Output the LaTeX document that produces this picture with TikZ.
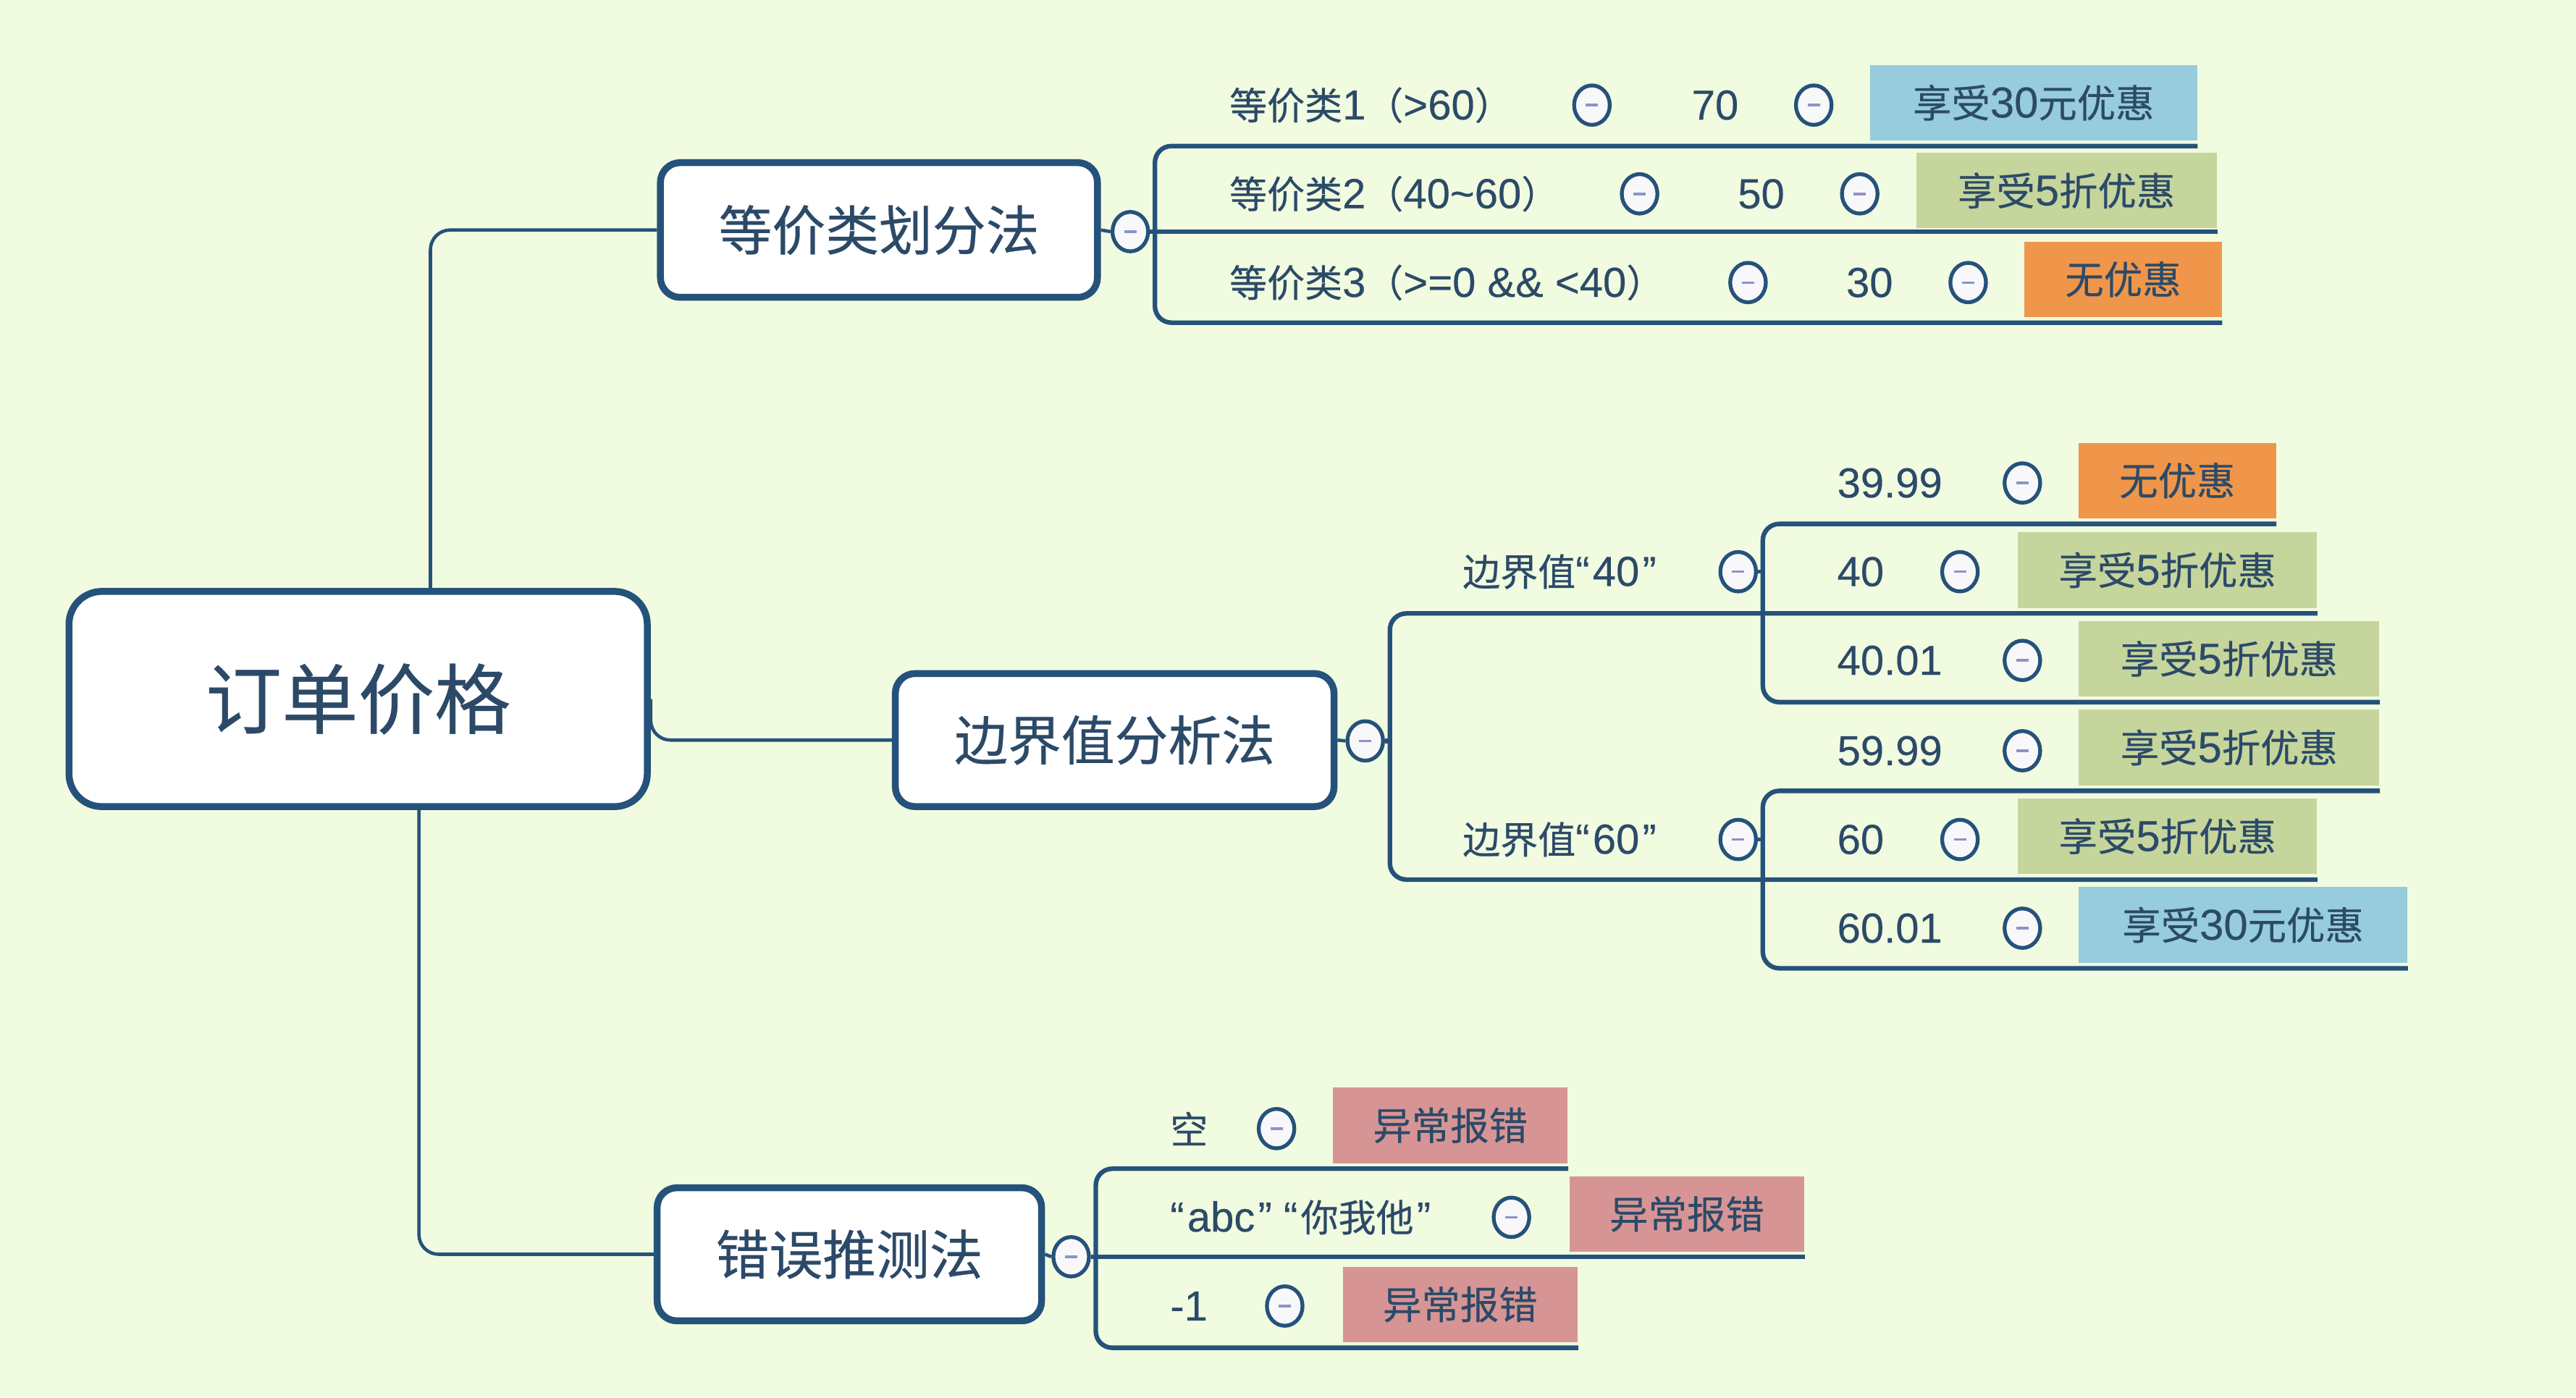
\documentclass[tikz,border=0pt]{standalone}
\usepackage{fontspec}
\newfontfamily\cjk[FakeBold=0.35]{Noto Sans CJK SC}
\newfontfamily\lat[FakeBold=0.25]{Liberation Sans}
\newcommand\rowcj[1]{{\cjk\fontsize{14.8}{18}\selectfont #1}}
\newcommand\boxcj[1]{{\cjk\fontsize{15.2}{18}\selectfont #1}}
\newcommand\oq{“\kern1.2pt}
\newcommand\cq{\kern1.2pt”}
\usetikzlibrary{shapes.geometric,calc}
\definecolor{bg}{HTML}{F1FBE0}
\definecolor{bord}{HTML}{24527A}
\definecolor{txt}{HTML}{2C4A68}
\definecolor{cblue}{HTML}{96CCDC}
\definecolor{cgreen}{HTML}{C5D59C}
\definecolor{corange}{HTML}{F0964A}
\definecolor{cred}{HTML}{D69594}
\definecolor{togfill}{HTML}{F8F8FB}
\definecolor{mcol}{HTML}{8C93C8}
\def\U{0.6456pt}
\begin{document}
\begin{tikzpicture}[x=0.02269cm, y=-0.02269cm,
  every node/.style={font=\cjk, text=txt},
  mainbox/.style={draw=bord, fill=white, line width=2.7pt, rounded corners=12*\U, inner sep=0pt},
  conn/.style={draw=bord, line width=1.3pt},
  ul/.style={draw=bord, line width=1.8pt},
  tog/.style={ellipse, draw=bord, fill=togfill, line width=1.5pt, minimum width=14pt, minimum height=15.5pt, inner sep=0pt,
    path picture={\draw[mcol, line width=1pt] ([xshift=-2.4pt]path picture bounding box.center) -- ([xshift=2.4pt]path picture bounding box.center);}},
  lbl/.style={anchor=west, inner sep=0pt, font=\lat\fontsize{16.5}{18}\selectfont},
  res/.style={anchor=west, inner sep=0pt, minimum height=46*\U, font=\lat\fontsize{17}{18}\selectfont},
]
\fill[bg] (0,0) rectangle (1568,850.6);
\useasboundingbox (0,0) rectangle (1568,850.6);

% main boxes
\node[mainbox, minimum width=352*\U, minimum height=131*\U, rounded corners=20*\U] (root) at (218,425.5) {\fontsize{30}{34}\selectfont 订单价格};
\node[mainbox, minimum width=266*\U, minimum height=82*\U] (b1) at (535,140) {\fontsize{21}{24}\selectfont 等价类划分法};
\node[mainbox, minimum width=267*\U, minimum height=81*\U] (b2) at (678.5,450.5) {\fontsize{21}{24}\selectfont 边界值分析法};
\node[mainbox, minimum width=234*\U, minimum height=81*\U] (b3) at (517,763.5) {\fontsize{21}{24}\selectfont 错误推测法};

\node[tog] (t1) at (688,141) {};
\node[tog] (t2) at (831,451) {};
\node[tog] (t3) at (652,765) {};

\draw[conn, rounded corners=12*\U] (root.north -| 262,0) |- (b1.west);
\draw[conn, rounded corners=12*\U] (root.south -| 255,0) |- (b3.west);
\draw[conn, rounded corners=12*\U] (root.east) |- (b2.west);
\draw[conn] (b1.east) -- (t1.west);
\draw[conn] (b2.east) -- (t2.west);
\draw[conn] (b3.east) -- (t3.west);

% branch 1 rows
\node[lbl] (l11) at (748,64) {\rowcj{等价类}1\rowcj{（}>60\rowcj{）}};
\node[tog] (t11) at (969,64) {};
\node[lbl, anchor=center] (v11) at (1044,64) {70};
\node[tog] (t11b) at (1104,64) {};
\node[res, fill=cblue, minimum width=199*\U] (r11) at (1138,62.5) {\boxcj{享受}30\boxcj{元优惠}};

\node[lbl] (l12) at (748,118) {\rowcj{等价类}2\rowcj{（}40\textasciitilde 60\rowcj{）}};
\node[tog] (t12) at (998,118) {};
\node[lbl, anchor=center] (v12) at (1072,118) {50};
\node[tog] (t12b) at (1132,118) {};
\node[res, fill=cgreen, minimum width=183*\U] (r12) at (1166,116) {\boxcj{享受}5\boxcj{折优惠}};

\node[lbl] (l13) at (748,172) {\rowcj{等价类}3\rowcj{（}>=0 \&\& <40\rowcj{）}};
\node[tog] (t13) at (1064,172) {};
\node[lbl, anchor=center] (v13) at (1138,172) {30};
\node[tog] (t13b) at (1198,172) {};
\node[res, fill=corange, minimum width=120*\U] (r13) at (1232,170) {\boxcj{无优惠}};

\coordinate (j1) at (703,141);
\draw[ul, rounded corners=10*\U] ([yshift=-2pt]r11.south east) -| (j1) |- ([yshift=-2pt]r13.south east);
\draw[ul] (t1.east) -- (t1.east -| r12.east);

% branch 2
\node[lbl] (l40) at (890,348) {\rowcj{边界值}\oq 40\cq};
\node[tog] (t40) at (1058,348) {};
\node[lbl] (l60) at (890,511) {\rowcj{边界值}\oq 60\cq};
\node[tog] (t60) at (1058,511) {};

\node[lbl] (a1) at (1118,294) {39.99};
\node[tog] (ta1) at (1231,294) {};
\node[res, fill=corange, minimum width=120*\U] (ra1) at (1265,292.5) {\boxcj{无优惠}};
\node[lbl] (a2) at (1118,348) {40};
\node[tog] (ta2) at (1193,348) {};
\node[res, fill=cgreen, minimum width=182*\U] (ra2) at (1228,347) {\boxcj{享受}5\boxcj{折优惠}};
\node[lbl] (a3) at (1118,402) {40.01};
\node[tog] (ta3) at (1231,402) {};
\node[res, fill=cgreen, minimum width=183*\U] (ra3) at (1265,401) {\boxcj{享受}5\boxcj{折优惠}};
\node[lbl] (a4) at (1118,457) {59.99};
\node[tog] (ta4) at (1231,457) {};
\node[res, fill=cgreen, minimum width=183*\U] (ra4) at (1265,455) {\boxcj{享受}5\boxcj{折优惠}};
\node[lbl] (a5) at (1118,511) {60};
\node[tog] (ta5) at (1193,511) {};
\node[res, fill=cgreen, minimum width=182*\U] (ra5) at (1228,509) {\boxcj{享受}5\boxcj{折优惠}};
\node[lbl] (a6) at (1118,565) {60.01};
\node[tog] (ta6) at (1231,565) {};
\node[res, fill=cblue, minimum width=200*\U] (ra6) at (1265,563) {\boxcj{享受}30\boxcj{元优惠}};

\coordinate (j2) at (846,451);
\coordinate (j40) at (1073,348);
\coordinate (j60) at (1073,511);
\draw[ul] (t2.east) -- (j2);
\draw[ul, rounded corners=10*\U] ([yshift=-2pt]ra2.south east) -| (j2) |- ([yshift=-2pt]ra5.south east);
\draw[ul, rounded corners=10*\U] ([yshift=-2pt]ra1.south east) -| (j40) |- ([yshift=-2pt]ra3.south east);
\draw[ul, rounded corners=10*\U] ([yshift=-2pt]ra4.south east) -| (j60) |- ([yshift=-2pt]ra6.south east);
\draw[conn] (t40.east) -- (j40);
\draw[conn] (t60.east) -- (j60);

% branch 3
\node[lbl] (e1) at (712,687) {\rowcj{空}};
\node[tog] (te1) at (777,687) {};
\node[res, fill=cred, minimum width=143*\U] (re1) at (811,685) {\boxcj{异常报错}};
\node[lbl] (e2) at (712,741) {\oq abc\cq\ \oq\rowcj{你我他}\cq};
\node[tog] (te2) at (920,741) {};
\node[res, fill=cred, minimum width=143*\U] (re2) at (955,739) {\boxcj{异常报错}};
\node[lbl] (e3) at (712,795) {-1};
\node[tog] (te3) at (782,795) {};
\node[res, fill=cred, minimum width=143*\U] (re3) at (817,794) {\boxcj{异常报错}};

\coordinate (j3) at (667,765);
\draw[ul, rounded corners=10*\U] ([yshift=-2pt]re1.south east) -| (j3) |- ([yshift=-2pt]re3.south east);
\draw[ul] (t3.east) -- (t3.east -| re2.east);
\end{tikzpicture}
\end{document}
